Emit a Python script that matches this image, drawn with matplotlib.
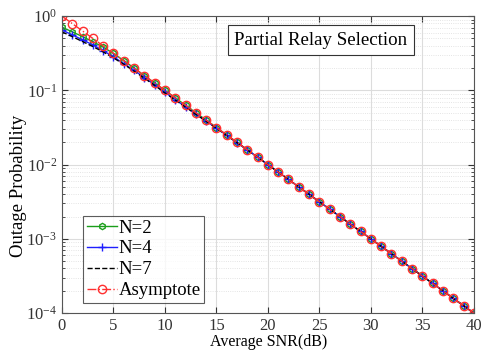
import matplotlib
matplotlib.use("Agg")
import matplotlib.pyplot as plt
from matplotlib.ticker import LogLocator, NullFormatter

plt.rcParams['font.family'] = ['Liberation Serif', 'DejaVu Serif']
plt.rcParams['mathtext.fontset'] = 'stix'

snr_db = list(range(0, 41))

asymptote = [1.0, 0.794, 0.631, 0.501, 0.398, 0.316, 0.251, 0.2, 0.158, 0.126,
             0.1, 0.0794, 0.0631, 0.0501, 0.0398, 0.0316, 0.0251, 0.02, 0.0158, 0.0126,
             0.01, 0.00794, 0.00631, 0.00501, 0.00398, 0.00316, 0.00251, 0.002, 0.00158, 0.00126,
             0.001, 0.000794, 0.000631, 0.000501, 0.000398, 0.000316, 0.000251, 0.0002, 0.000158, 0.000126,
             0.0001]

n2 = [0.71, 0.615, 0.53, 0.452, 0.383, 0.314, 0.252, 0.2, 0.158, 0.126,
      0.1, 0.0794, 0.0631, 0.0501, 0.0398, 0.0316, 0.0251, 0.02, 0.0158, 0.0126,
      0.01, 0.00794, 0.00631, 0.00501, 0.00398, 0.00316, 0.00251, 0.002, 0.00158, 0.00126,
      0.001, 0.000794, 0.000631, 0.000501, 0.000398, 0.000316, 0.000251, 0.0002, 0.000158, 0.000126,
      0.0001]

n4 = [0.65, 0.56, 0.48, 0.41, 0.343, 0.283, 0.23, 0.186, 0.149, 0.119,
      0.094, 0.0752, 0.0602, 0.0482, 0.0387, 0.031, 0.0248, 0.0198, 0.0158, 0.0126,
      0.01, 0.00794, 0.00631, 0.00501, 0.00398, 0.00316, 0.00251, 0.002, 0.00158, 0.00126,
      0.001, 0.000794, 0.000631, 0.000501, 0.000398, 0.000316, 0.000251, 0.0002, 0.000158, 0.000126,
      0.0001]

n7 = [0.615, 0.53, 0.455, 0.39, 0.33, 0.274, 0.225, 0.182, 0.146, 0.117,
      0.0925, 0.0742, 0.0596, 0.0478, 0.0384, 0.0309, 0.0247, 0.0198, 0.0158, 0.0126,
      0.01, 0.00794, 0.00631, 0.00501, 0.00398, 0.00316, 0.00251, 0.002, 0.00158, 0.00126,
      0.001, 0.000794, 0.000631, 0.000501, 0.000398, 0.000316, 0.000251, 0.0002, 0.000158, 0.000126,
      0.0001]

x_ticks = [0, 5, 10, 15, 20, 25, 30, 35, 40]

fig = plt.figure(figsize=(4.84, 3.51), dpi=100)
ax = fig.add_axes([0.128, 0.108, 0.851, 0.846])

ax.semilogy(snr_db, n2, color='#1a9e1a', marker='h', markersize=4.5, markerfacecolor='none',
            linewidth=1.0, label='N=2')
ax.semilogy(snr_db, n4, color='#1f1fff', marker='+', markersize=6, linewidth=1.0, label='N=4')
ax.semilogy(snr_db, n7, color='black', linestyle='--', linewidth=1.0, label='N=7')
ax.semilogy(snr_db, asymptote, color='#ff3030', linestyle='-.', marker='o', markersize=6,
            markerfacecolor='none', linewidth=1.0, label='Asymptote')

ax.set_xlim(0, 40)
ax.set_ylim(1e-4, 1)
ax.set_xticks(x_ticks)
ax.yaxis.set_major_locator(LogLocator(base=10, numticks=10))
ax.yaxis.set_minor_locator(LogLocator(base=10, subs=range(2, 10), numticks=20))
ax.yaxis.set_minor_formatter(NullFormatter())

ax.grid(True, which='major', color='#dcdcdc', linewidth=0.8, linestyle='-')
ax.grid(True, which='minor', axis='y', color='#dcdcdc', linewidth=0.6, linestyle=':')
ax.set_axisbelow(True)

ax.tick_params(which='both', direction='in', top=True, right=True, labelsize=12, colors='#333333')
ax.tick_params(which='major', length=4)
ax.tick_params(which='minor', length=2)
for s in ax.spines.values():
    s.set_color('#555555')
    s.set_linewidth(0.8)

ax.set_xlabel('Average SNR(dB)', fontsize=11.5)
ax.xaxis.set_label_coords(0.501, -0.07)
ax.set_ylabel('Outage Probability', fontsize=13.5)
ax.yaxis.set_label_coords(-0.085, 0.43)

ax.text(0.629, 0.919, 'Partial Relay Selection', transform=ax.transAxes, fontsize=13.6,
        ha='center', va='center',
        bbox=dict(boxstyle='square,pad=0.35', facecolor='white', edgecolor='#333333', linewidth=0.8))

leg = ax.legend(loc='lower left', bbox_to_anchor=(0.051, 0.034), fontsize=13.5, frameon=True,
                fancybox=False, edgecolor='#333333', handlelength=1.6, handletextpad=0.1,
                borderpad=0.2, labelspacing=0.2, borderaxespad=0.0)
leg.get_frame().set_linewidth(0.8)

fig.savefig('out.png', dpi=100)
